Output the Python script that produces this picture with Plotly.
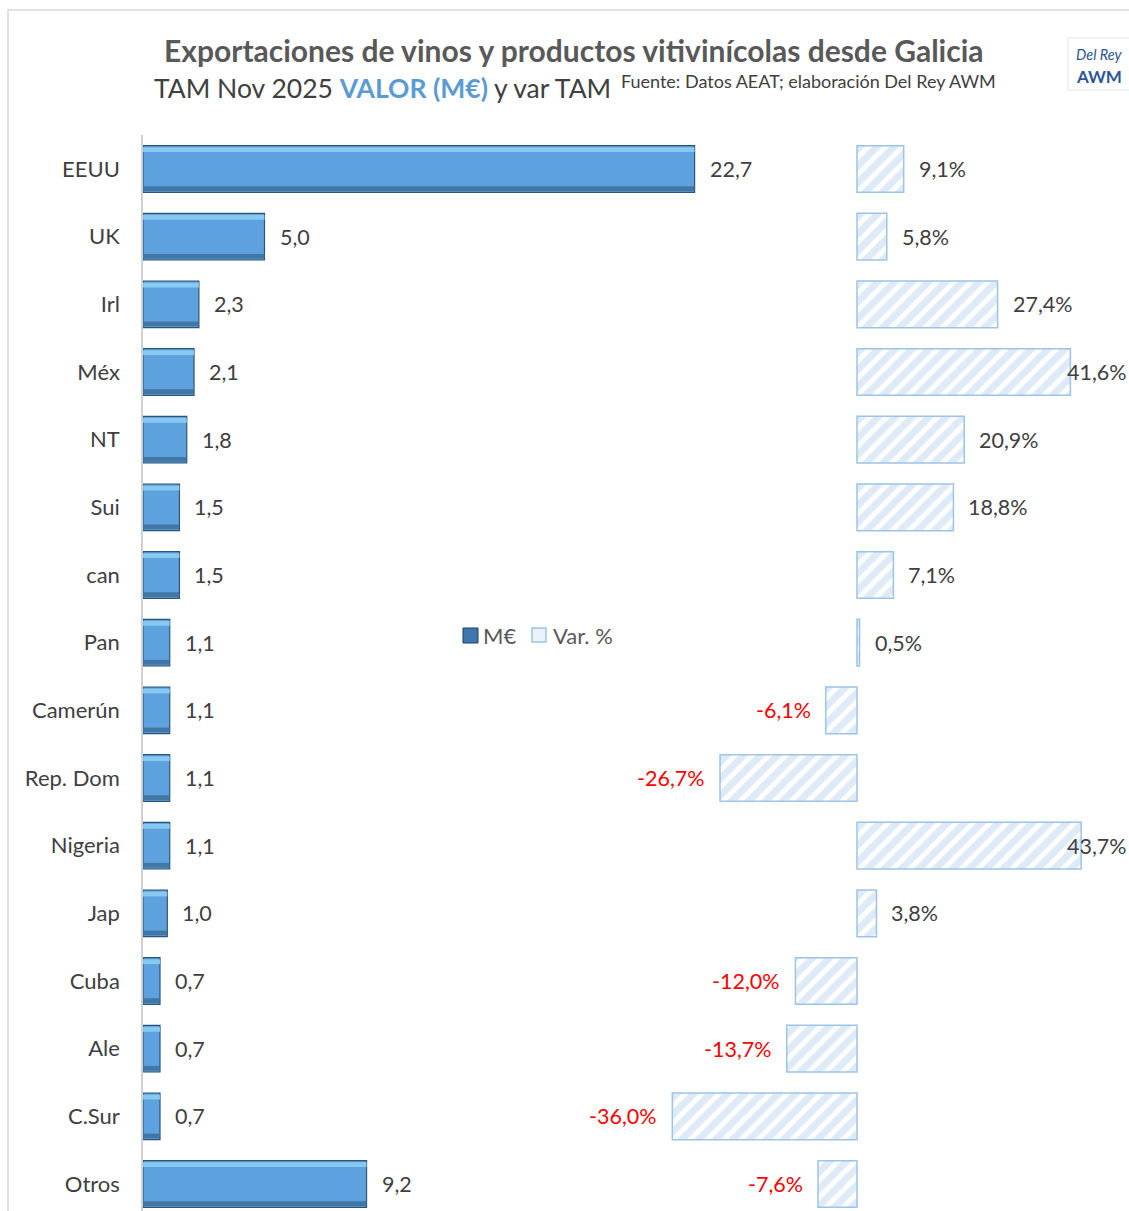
import plotly.graph_objects as go

W, H = 1129, 1211

countries = ["EEUU", "UK", "Irl", "Méx", "NT", "Sui", "can", "Pan", "Camerún",
             "Rep. Dom", "Nigeria", "Jap", "Cuba", "Ale", "C.Sur", "Otros"]
valor_me = [22.7, 5.0, 2.3, 2.1, 1.8, 1.5, 1.5, 1.1, 1.1, 1.1, 1.1, 1.0, 0.7, 0.7, 0.7, 9.2]
var_pct = [9.1, 5.8, 27.4, 41.6, 20.9, 18.8, 7.1, 0.5, -6.1, -26.7, 43.7, 3.8, -12.0, -13.7, -36.0, -7.6]

FONT = "Lato"
TXT = "#404040"


def px(p):
    return p / W


def py(p):
    return 1 - p / H


def es(v, d=1):
    return f"{v:.{d}f}".replace(".", ",")


BW = 0.69
fig = go.Figure()

# Main value bars (bevelled look with top/bottom strips)
fig.add_trace(go.Bar(
    y=countries, x=valor_me, orientation="h", name="M€",
    xaxis="x", yaxis="y", width=BW, offset=-BW / 2, hoverinfo="x+y",
    marker=dict(color="#5DA2DE", line=dict(color="#2C557C", width=1.2)),
))
fig.add_trace(go.Bar(
    y=countries, x=valor_me, orientation="h", showlegend=False, hoverinfo="skip",
    xaxis="x", yaxis="y", width=0.07, offset=-BW / 2 + 0.025,
    marker=dict(color="#8FD0F5", opacity=0.85, line=dict(width=0)),
))
fig.add_trace(go.Bar(
    y=countries, x=valor_me, orientation="h", showlegend=False, hoverinfo="skip",
    xaxis="x", yaxis="y", width=0.07, offset=BW / 2 - 0.09,
    marker=dict(color="#3D6E9B", opacity=0.85, line=dict(width=0)),
))

fig.add_trace(go.Bar(
    y=countries, x=var_pct, orientation="h", name="Var. %",
    xaxis="x2", yaxis="y", width=BW, offset=-BW / 2,
    marker=dict(color="white", line=dict(color="#9DC3E6", width=1.5),
                pattern=dict(shape="/", fgcolor="#BDD7EE", bgcolor="white",
                             size=12, solidity=0.6)),
))

annotations = []
for c, v in zip(countries, valor_me):
    annotations.append(dict(x=v, y=c, xref="x", yref="y", text=es(v),
                            showarrow=False, xanchor="left", xshift=13,
                            font=dict(size=21.5, color=TXT, family=FONT)))
for c, v in zip(countries, var_pct):
    neg = v < 0
    lab = es(v) + "%"
    font = dict(size=21.5, color="#FF0000" if neg else TXT, family=FONT)
    if v > 40:
        # no room to the right: the label sits against the chart's right edge
        annotations.append(dict(x=1.0, y=c, xref="paper", yref="y", text=lab,
                                showarrow=False, xanchor="right", font=font))
    else:
        annotations.append(dict(x=v, y=c, xref="x2", yref="y", text=lab,
                                showarrow=False, xanchor="right" if neg else "left",
                                xshift=-13 if neg else 13, font=font))

# Titles
annotations.append(dict(x=px(574), y=py(50), xref="paper", yref="paper",
                        text="<b>Exportaciones de vinos y productos vitivinícolas desde Galicia</b>",
                        showarrow=False, xanchor="center", yanchor="middle",
                        font=dict(size=30, color="#595959", family=FONT)))
annotations.append(dict(x=px(613), y=py(88), xref="paper", yref="paper",
                        text="TAM Nov 2025 <b><span style='color:#5B9BD5'>VALOR (M€)</span></b> y var TAM",
                        showarrow=False, xanchor="right", yanchor="middle",
                        font=dict(size=26.5, color=TXT, family=FONT)))
annotations.append(dict(x=px(619), y=py(81), xref="paper", yref="paper",
                        text="Fuente: Datos AEAT; elaboración Del Rey AWM",
                        showarrow=False, xanchor="left", yanchor="middle",
                        font=dict(size=18, color=TXT, family=FONT)))
# Logo
annotations.append(dict(x=px(1099), y=py(55), xref="paper", yref="paper",
                        text="<i>Del Rey</i>", showarrow=False, xanchor="center", yanchor="middle",
                        font=dict(size=14.5, color="#2F5597", family=FONT)))
annotations.append(dict(x=px(1099), y=py(76), xref="paper", yref="paper",
                        text="<b>AWM</b>", showarrow=False, xanchor="center", yanchor="middle",
                        font=dict(size=17, color="#2F5597", family=FONT)))
# Legend texts
annotations.append(dict(x=px(481), y=py(635), xref="paper", yref="paper", text="M€",
                        showarrow=False, xanchor="left", yanchor="middle",
                        font=dict(size=22, color="#595959", family=FONT)))
annotations.append(dict(x=px(551), y=py(635), xref="paper", yref="paper", text="Var. %",
                        showarrow=False, xanchor="left", yanchor="middle",
                        font=dict(size=22, color="#595959", family=FONT)))

shapes = [
    dict(type="rect", xref="paper", yref="paper", x0=px(8), x1=px(1140), y0=py(1230), y1=py(10),
         line=dict(color="#D9D9D9", width=1.5), fillcolor="rgba(0,0,0,0)", layer="below"),
    dict(type="rect", xref="paper", yref="paper", x0=px(1068), x1=px(1135), y0=py(90), y1=py(38),
         line=dict(color="#E3E3E3", width=1), fillcolor="white"),
    # legend symbols
    dict(type="rect", xref="paper", yref="paper", x0=px(463), x1=px(478), y0=py(643), y1=py(628),
         line=dict(color="#1F3F5E", width=1), fillcolor="#3F78AD"),
    dict(type="rect", xref="paper", yref="paper", x0=px(532), x1=px(546), y0=py(642), y1=py(628),
         line=dict(color="#9DC3E6", width=1.5), fillcolor="#EAF2FA"),
]

s = 67.67
top_px = 169 - 0.5 * s
y_bottom = 15 + (H - 1184) / s

fig.update_layout(
    width=W, height=H,
    margin=dict(l=0, r=0, t=0, b=0),
    paper_bgcolor="white", plot_bgcolor="rgba(0,0,0,0)",
    font=dict(family=FONT, color=TXT),
    barmode="overlay",
    showlegend=False,
    xaxis=dict(domain=[px(143), px(780)], range=[0, (780 - 143) / 24.3], anchor="y",
               showgrid=False, zeroline=False, showticklabels=False, showline=False, fixedrange=True),
    xaxis2=dict(domain=[px(600), 1.0], range=[-(857 - 600) / 5.13, (W - 857) / 5.13], anchor="y",
                showgrid=False, zeroline=False, showticklabels=False, showline=False, fixedrange=True),
    yaxis=dict(domain=[0, py(top_px)], range=[y_bottom, -0.5], type="category",
               categoryorder="array", categoryarray=countries, anchor="x",
               showgrid=False, zeroline=False, showline=True, linecolor="#D0D0D0", linewidth=1.5,
               ticks="", ticklabelstandoff=17, tickfont=dict(size=22, color=TXT, family=FONT)),
    annotations=annotations,
    shapes=shapes,
)

fig.write_html("out.html", config={"displayModeBar": False},
               post_script="document.body.style.margin='0';document.body.style.overflow='hidden';")
